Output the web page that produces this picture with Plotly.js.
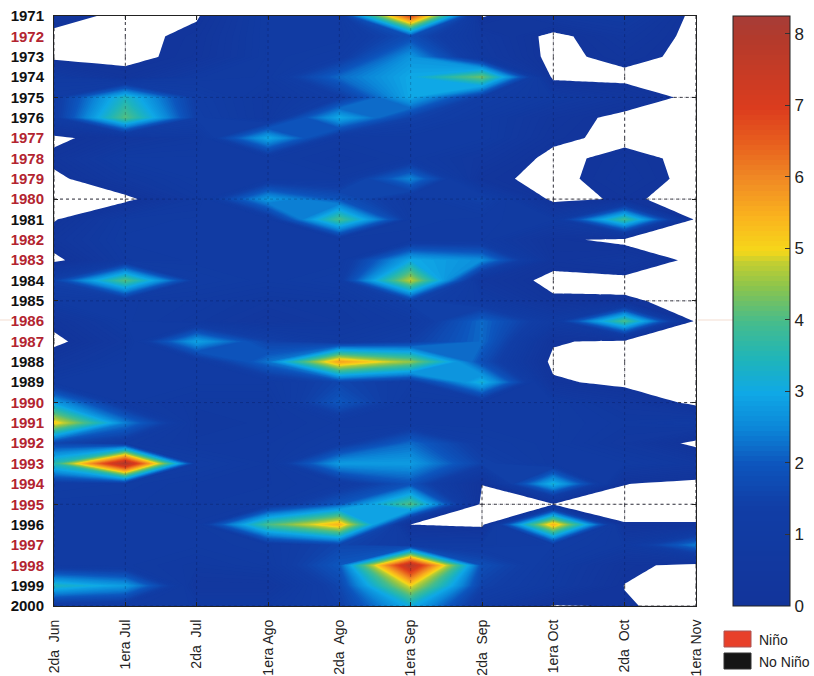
<!DOCTYPE html>
<html>
<head>
<meta charset="utf-8">
<script src="https://cdn.plot.ly/plotly-3.0.1.min.js"></script>
<style>html,body{margin:0;padding:0;background:#fff}#chart{width:814px;height:676px}</style>
</head>
<body>
<div id="chart"></div>
<script>
const periods = ["2da  Jun","1era Jul","2da  Jul","1era Ago","2da  Ago","1era Sep","2da  Sep","1era Oct","2da  Oct","1era Nov"];
const years = [1971,1972,1973,1974,1975,1976,1977,1978,1979,1980,1981,1982,1983,1984,1985,1986,1987,1988,1989,1990,1991,1992,1993,1994,1995,1996,1997,1998,1999,2000];
const ninoYears = [1972,1977,1978,1979,1980,1982,1983,1986,1987,1990,1991,1992,1993,1994,1995,1997,1998];
const values = [
 [.35,0,.1,1,1,6.8,.1,.7,.9,0],
 [0,0,.25,1,1,1.8,.67,0,.5,0],
 [0,0,.3,1,1.2,2.7,.8,0,.3,0],
 [.9,.3,.9,1,2.2,3,4.3,0,0,0],
 [1.2,3.4,1.3,.8,1.3,3,1.3,.9,.45,0],
 [1.2,4.1,1.4,.8,3,1.5,1,.37,0,0],
 [0,.47,.8,3,1,1,1,.25,0,0],
 [.3,1,1,1,.8,1,.58,0,.3,0],
 [0,.65,1,1,1,2.5,.26,0,.38,0],
 [0,0,.8,2.8,1.9,1,1.5,0,.2,0],
 [.1,.93,1,1,4,1.1,1,.93,3.9,0],
 [.4,1,1,1,1,1,1,.25,0,0],
 [0,.9,1,1,1,3,2.6,.3,.55,0],
 [1.5,4.1,1.2,1,1.2,4.8,.5,0,0,0],
 [1,1,.9,.7,.8,1.5,1,.22,.2,0],
 [.3,1,.8,.5,.7,1,2.2,1,4,0],
 [0,.7,2.9,1.5,1,1.4,2.2,.2,0,0],
 [.5,1,1,2.3,5.7,4.5,1.8,0,0,0],
 [1,1,1,1,1.6,1.2,3.2,.22,0,0],
 [2.8,1,.8,.8,2,1,1,1,.56,0],
 [5.2,2.4,.7,.8,1,1,1,1,.8,1],
 [1.6,1.1,.8,.9,1.2,2.2,1.2,1,.63,0],
 [3.6,8.1,1.2,.9,2.8,2.8,1.5,1,1,.7],
 [1.2,1.1,.9,.9,1.1,1.9,.15,3.2,.15,0],
 [1,1,.9,1,2,4.1,0,.1,0,0],
 [1,1,1,4,5.5,.13,0,5.5,.16,.16],
 [1,1,1,1.1,1.6,1.1,1.1,1.2,.9,2.4],
 [1,1,.8,1,2,7.9,1.8,1,.25,0],
 [3.4,2.8,.5,.5,1.6,5,1.5,.9,.13,0],
 [1,1,.9,.9,1.4,3.1,1,.1,.175,0]
];
const gridYears = [1975,1980,1985,1990,1995,2000];
const scaleTicks = [0,1,2,3,4,5,6,7,8];
const scaleMax = 8.25;
const noDataBelow = 0.14;
const colorStops = [
 [0,"#12349a"],[1.4,"#113ea6"],[2,"#0d55bd"],[2.5,"#0c86d8"],[3,"#0fa8e6"],[3.5,"#20b5b8"],[4,"#46bc8c"],
 [4.5,"#8cc44c"],[4.85,"#c4cf30"],[5,"#f6d81a"],[5.5,"#fab21e"],[6,"#f08a24"],[6.5,"#e8601e"],[7,"#dc3c1e"],[8,"#b23a2c"],[8.25,"#a83c36"]
];

const L=54,R=696,T=16,B=606,W=760;
const px=v=>(v-L)/W, py=v=>(B-v)/(B-T);
const colIdx=periods.map((p,i)=>i);

// faint grid everywhere
const gridX=[],gridY=[];
colIdx.forEach(c=>{gridX.push(c,c,null);gridY.push(years[0],years[years.length-1],null);});
gridYears.forEach(y=>{gridX.push(0,periods.length-1,null);gridY.push(y,y,null);});

// dark grid only where the field is blank (the colour field hides it elsewhere)
const blankX=[],blankY=[];
function blankPart(a,b){
  if(a<noDataBelow&&b<noDataBelow) return [0,1];
  if(a<noDataBelow) return [0,(noDataBelow-a)/(b-a)];
  if(b<noDataBelow) return [(noDataBelow-a)/(b-a),1];
  return null;
}
colIdx.forEach(c=>{
  for(let r=0;r<years.length-1;r++){
    const p=blankPart(values[r][c],values[r+1][c]);
    if(p){blankX.push(c,c,null);blankY.push(years[r]+p[0],years[r]+p[1],null);}
  }
});
gridYears.forEach(y=>{
  const r=years.indexOf(y);
  for(let c=0;c<periods.length-1;c++){
    const p=blankPart(values[r][c],values[r][c+1]);
    if(p){blankX.push(c+p[0],c+p[1],null);blankY.push(y,y,null);}
  }
});

const traces=[
 {type:"contour",x:colIdx,y:years,z:values,zmin:0,zmax:scaleMax,hoverinfo:"skip",
  colorscale:colorStops.map(s=>[s[0]/scaleMax,s[1]]),
  contours:{coloring:"fill",start:0,end:scaleMax,size:0.07,showlines:false},line:{width:0,smoothing:0},
  colorbar:{x:px(733),xanchor:"left",thickness:57,thicknessmode:"pixels",xpad:0,ypad:0,y:0,yanchor:"bottom",len:1,
    outlinewidth:1,outlinecolor:"#222",tickmode:"array",tickvals:scaleTicks,ticks:"inside",ticklen:5,tickcolor:"#333",
    tickfont:{family:"Liberation Sans",size:17,color:"#222"}}},
 {type:"contour",x:colIdx,y:years,z:values,showscale:false,hoverinfo:"skip",
  contours:{type:"constraint",operation:">",value:noDataBelow},fillcolor:"#ffffff",line:{width:0,smoothing:0}},
 {type:"scatter",mode:"lines",x:gridX,y:gridY,hoverinfo:"skip",showlegend:false,connectgaps:false,
  line:{color:"rgba(0,0,40,0.22)",width:1,dash:"dot"}},
 {type:"scatter",mode:"lines",x:blankX,y:blankY,hoverinfo:"skip",showlegend:false,connectgaps:false,
  line:{color:"rgba(20,20,30,0.8)",width:1,dash:"dot"}}
];

const layout={
 width:814,height:676,paper_bgcolor:"#fff",plot_bgcolor:"#fff",showlegend:false,
 margin:{l:L,r:0,t:T,b:676-B,pad:0},
 font:{family:"Liberation Sans"},
 xaxis:{domain:[0,(R-L)/W],range:[0,9],tickmode:"array",tickvals:colIdx,ticktext:periods,
   tickangle:-90,ticks:"inside",ticklen:4,tickcolor:"#222",showline:true,linecolor:"#222",linewidth:1,mirror:"allticks",showgrid:false,zeroline:false,
   tickfont:{family:"Liberation Sans",size:14,color:"#222"},ticklabelstandoff:7,automargin:false},
 yaxis:{range:[2000,1971],tickmode:"array",tickvals:years,
   ticktext:years.map(y=>ninoYears.includes(y)?`<span style="color:#b32430"><b>${y}</b></span>`:`<b>${y}</b>`),
   ticks:"",showline:true,linecolor:"#222",linewidth:1,mirror:"allticks",showgrid:false,zeroline:false,
   minor:{tickmode:"array",tickvals:gridYears,ticks:"inside",ticklen:4,tickcolor:"#222",showgrid:false},
   tickfont:{family:"Liberation Sans",size:15,color:"#111"},ticklabelstandoff:6,automargin:false},
 shapes:[
  {type:"rect",xref:"paper",yref:"paper",x0:px(724),x1:px(751),y0:py(647),y1:py(631),fillcolor:"#e8402a",line:{color:"#a55",width:1}},
  {type:"rect",xref:"paper",yref:"paper",x0:px(724),x1:px(751),y0:py(669),y1:py(653),fillcolor:"#151515",line:{color:"#333",width:1}},
  {type:"line",xref:"paper",yref:"paper",x0:px(0),x1:px(12),y0:py(320),y1:py(320),line:{color:"rgba(225,170,140,0.4)",width:1}},
  {type:"line",xref:"paper",yref:"paper",x0:px(698),x1:px(733),y0:py(320),y1:py(320),line:{color:"rgba(225,170,140,0.4)",width:1}}
 ],
 annotations:[
  {xref:"paper",yref:"paper",x:px(757),y:py(640),xanchor:"left",yanchor:"middle",text:"Niño",showarrow:false,font:{family:"Liberation Sans",size:14,color:"#222"}},
  {xref:"paper",yref:"paper",x:px(757),y:py(662),xanchor:"left",yanchor:"middle",text:"No Niño",showarrow:false,font:{family:"Liberation Sans",size:14,color:"#222"}}
 ]
};
Plotly.newPlot("chart",traces,layout,{displayModeBar:false,staticPlot:true});
</script>
</body>
</html>
